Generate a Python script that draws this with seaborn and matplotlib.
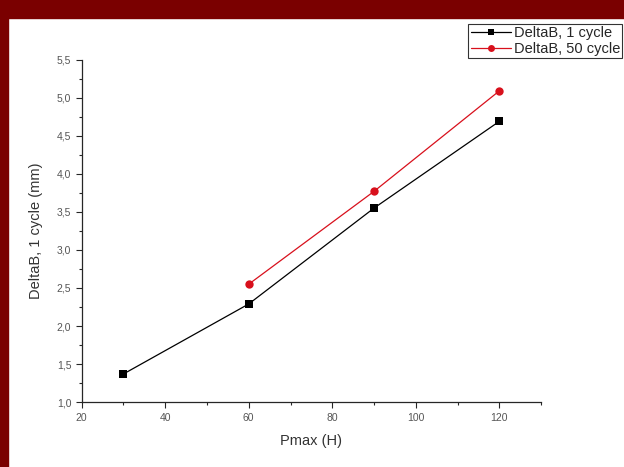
import matplotlib
matplotlib.use("Agg")
import matplotlib.pyplot as plt
import matplotlib.patches as mpatches
from matplotlib.ticker import MultipleLocator, FuncFormatter
import pandas as pd
import seaborn as sns

# Values
pmax_1 = [30, 60, 90, 120]
delta_1 = [1.37, 2.29, 3.55, 4.69]
pmax_50 = [60, 90, 120]
delta_50 = [2.55, 3.77, 5.09]
labels = ["DeltaB, 1 cycle", "DeltaB, 50 cycle"]

df = pd.concat([
    pd.DataFrame({"Pmax": pmax_1, "DeltaB": delta_1, "series": labels[0]}),
    pd.DataFrame({"Pmax": pmax_50, "DeltaB": delta_50, "series": labels[1]}),
])

sns.set_style("ticks")
plt.rcParams["font.family"] = ["Liberation Sans", "DejaVu Sans"]

fig = plt.figure(figsize=(6.24, 4.67), dpi=100)
ax = fig.add_axes([0.131, 0.139, 0.736, 0.733])

sns.lineplot(data=df, x="Pmax", y="DeltaB", hue="series", style="series",
             palette=["black", "#d8101c"], markers=["s", "o"], dashes=False,
             markersize=6, markeredgewidth=0, linewidth=0.9, ax=ax, legend=False)

ax.set_xlim(20, 130)
ax.set_ylim(1.0, 5.5)
ax.xaxis.set_major_locator(MultipleLocator(20))
ax.xaxis.set_minor_locator(MultipleLocator(10))
ax.yaxis.set_major_locator(MultipleLocator(0.5))
ax.yaxis.set_minor_locator(MultipleLocator(0.25))
ax.yaxis.set_major_formatter(FuncFormatter(lambda v, p: f"{v:.1f}".replace(".", ",")))
ax.tick_params(which="major", length=4, width=0.8, labelsize=7.5, labelcolor="#555555")
ax.tick_params(which="minor", length=2.5, width=0.8)
sns.despine(ax=ax)
for s in ["left", "bottom"]:
    ax.spines[s].set_linewidth(0.9)

ax.set_xlabel("Pmax (H)", fontsize=10.5, color="#333333", labelpad=8)
ax.set_ylabel("DeltaB, 1 cycle (mm)", fontsize=10.5, color="#333333", labelpad=10)

handles = [
    plt.Line2D([], [], color="black", marker="s", markersize=5, linewidth=0.9, markeredgewidth=0),
    plt.Line2D([], [], color="#d8101c", marker="o", markersize=5, linewidth=0.9, markeredgewidth=0),
]
leg = fig.legend(handles, labels, loc="upper right", bbox_to_anchor=(0.997, 0.949),
                 fontsize=10.5, frameon=True, fancybox=False, borderpad=0.15,
                 labelspacing=0.15, handlelength=2.8, handletextpad=0.15, borderaxespad=0)
leg.get_frame().set_edgecolor("black")
leg.get_frame().set_linewidth(0.8)

# dark red frame on the left and top edges
fig.patches.append(mpatches.Rectangle((0, 0), 8 / 624, 1, transform=fig.transFigure,
                                      color="#7a0000", zorder=10))
fig.patches.append(mpatches.Rectangle((0, 1 - 18 / 467), 1, 18 / 467, transform=fig.transFigure,
                                      color="#7a0000", zorder=10))

fig.savefig("out.png", dpi=100)
